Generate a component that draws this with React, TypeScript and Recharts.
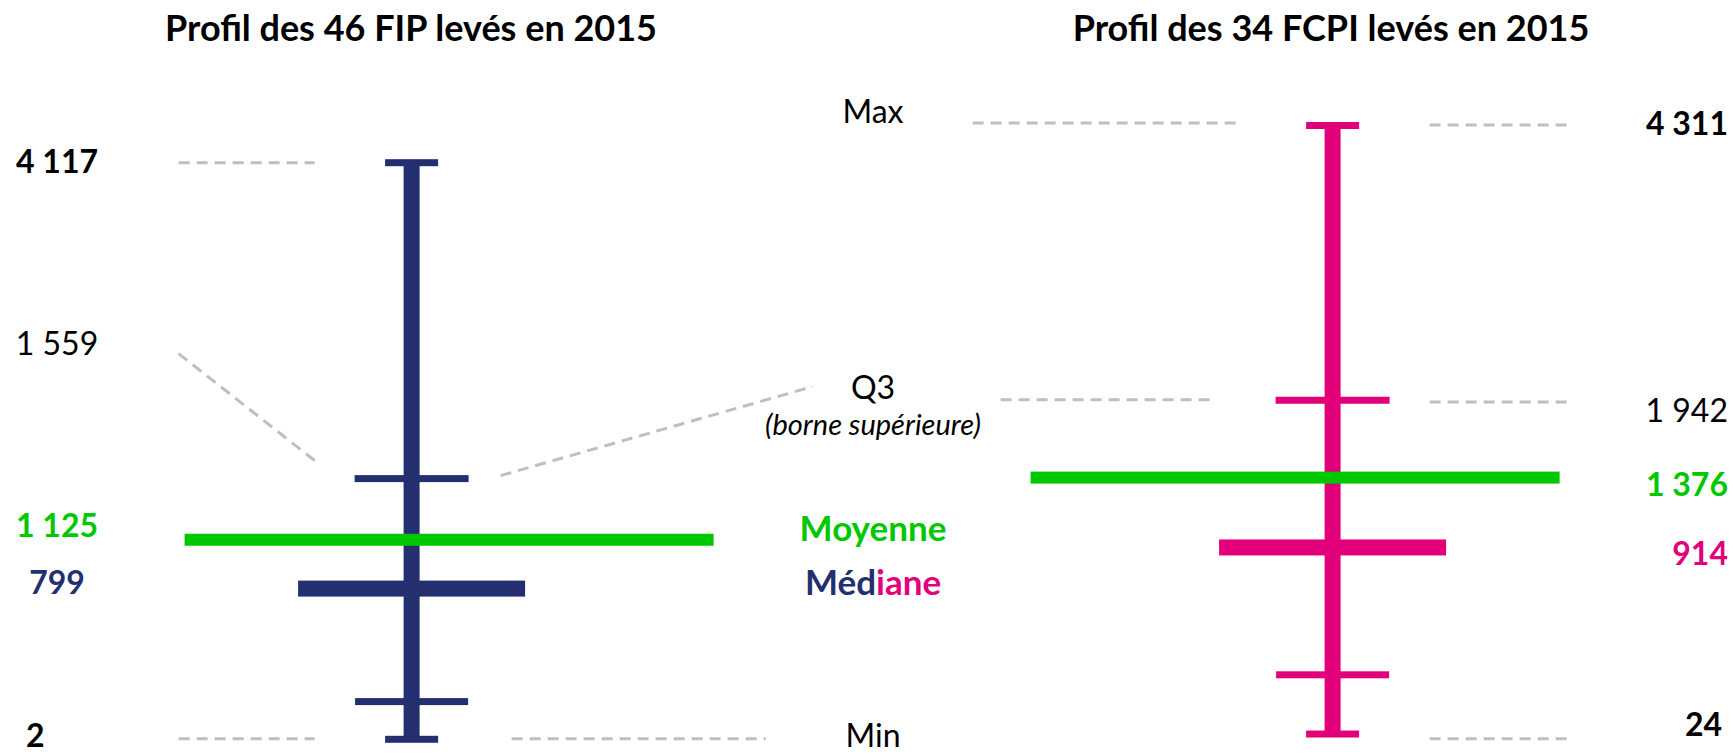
import React from "react";
import { Scatter, ScatterChart, XAxis, YAxis } from "recharts";

// columns of the sheet: the two funds with the legend in between
const columns = ["FIP", "Légende", "FCPI"];
const funds = ["FIP", "FCPI"];
const fundCounts = [46, 34];
const year = 2015;

const statKeys = ["max", "q3", "moyenne", "mediane", "q1", "min"];
const fipValues = [4117, 1559, 1125, 799, 150, 2];
const fcpiValues = [4311, 1942, 1376, 914, 230, 24];

const NAVY = "#232F6E";
const PINK = "#E2007A";
const GREEN = "#00C800";
const GREY = "#BFBFBF";
const FONT = "Lato, 'Open Sans', sans-serif";

const W = 1733;
const H = 754;

// the sheet is drawn on a compressed (power) vertical scale
function powerScale(exponent: number): any {
  let dom: number[] = [0, 1];
  let rng: number[] = [0, 1];
  const f = (v: number) => Math.sign(v) * Math.pow(Math.abs(v), exponent);
  const fi = (t: number) => Math.sign(t) * Math.pow(Math.abs(t), 1 / exponent);
  const scale: any = (v: any) => {
    const a = f(dom[0]);
    const b = f(dom[dom.length - 1]);
    return rng[0] + ((f(Number(v)) - a) / (b - a)) * (rng[rng.length - 1] - rng[0]);
  };
  scale.domain = (d?: any[]) => {
    if (!d) return dom.slice();
    dom = d.map(Number);
    return scale;
  };
  scale.range = (r?: any[]) => {
    if (!r) return rng.slice();
    rng = r.map(Number);
    return scale;
  };
  scale.copy = () => powerScale(exponent).domain(dom).range(rng);
  scale.invert = (px: number) => {
    const a = f(dom[0]);
    const b = f(dom[dom.length - 1]);
    const t = (px - rng[0]) / (rng[rng.length - 1] - rng[0]);
    return fi(a + t * (b - a));
  };
  scale.ticks = (count = 5) => {
    const lo = dom[0];
    const hi = dom[dom.length - 1];
    const out: number[] = [];
    for (let i = 0; i <= count; i++) out.push(lo + ((hi - lo) * i) / count);
    return out;
  };
  scale.tickFormat = () => (v: number) => String(v);
  scale.clamp = () => scale;
  scale.nice = () => scale;
  return scale;
}

const fmt = (v: number) => String(v).replace(/\B(?=(\d{3})+(?!\d))/g, " ");

type Tick = { width?: number; thickness: number; color?: string; away?: number; toward?: number };
const tickStyle: Record<string, Tick> = {
  max: { width: 53, thickness: 7 },
  q3: { width: 114, thickness: 7 },
  moyenne: { thickness: 12, color: GREEN, away: 227, toward: 302 },
  mediane: { width: 227, thickness: 16 },
  q1: { width: 113, thickness: 7 },
  min: { width: 53, thickness: 7 },
};

type Label = { dx: number; dy: number; anchor: "start" | "middle" | "end"; bold: boolean; color: string };
type Guide = [number, number, number, number];

const fundStyle: Record<string, any> = {
  FIP: {
    color: NAVY,
    side: -1,
    exponent: 0.815,
    margin: { top: 162.7, bottom: 13.55 },
    labels: {
      max: { dx: -354.6, dy: 10.6, anchor: "middle", bold: true, color: "#000" },
      q3: { dx: -354.6, dy: -123.3, anchor: "middle", bold: false, color: "#000" },
      moyenne: { dx: -354.6, dy: -2.7, anchor: "middle", bold: true, color: GREEN },
      mediane: { dx: -354.6, dy: 5, anchor: "middle", bold: true, color: NAVY },
      min: { dx: -385.6, dy: 8, anchor: "start", bold: true, color: "#000" },
    } as Record<string, Label>,
    guides: {
      max: [[-233, 0, -97, 0]],
      q3: [
        [-233, -125, -93, -15],
        [89, -3, 401, -92],
      ],
      min: [
        [-233, -0.6, -97, -0.6],
        [100, -0.6, 354, -0.6],
      ],
    } as Record<string, Guide[]>,
  },
  FCPI: {
    color: PINK,
    side: 1,
    exponent: 0.73,
    margin: { top: 125.5, bottom: 5.9 },
    labels: {
      max: { dx: 395.4, dy: 9.5, anchor: "end", bold: true, color: "#000" },
      q3: { dx: 395.4, dy: 21.7, anchor: "end", bold: false, color: "#000" },
      moyenne: { dx: 395.4, dy: 18, anchor: "end", bold: true, color: GREEN },
      mediane: { dx: 395.4, dy: 18, anchor: "end", bold: true, color: PINK },
      min: { dx: 389.4, dy: 2, anchor: "end", bold: true, color: "#000" },
    } as Record<string, Label>,
    guides: {
      max: [
        [-360, -2.5, -95, -2.5],
        [97, -0.5, 234, -0.5],
      ],
      q3: [
        [-332, -0.6, -121, -0.6],
        [97, 1.7, 234, 1.7],
      ],
      min: [[97, 4.7, 234, 4.7]],
    } as Record<string, Guide[]>,
  },
};

function makeShape(fund: string) {
  const st = fundStyle[fund];
  return (props: any) => {
    const { cx, cy, payload } = props;
    const key: string = payload.key;
    const t = tickStyle[key];
    let x0 = cx - (t.width || 0) / 2;
    let w = t.width || 0;
    if (key === "moyenne") {
      const left = st.side < 0 ? t.away! : t.toward!;
      const right = st.side < 0 ? t.toward! : t.away!;
      x0 = cx - left;
      w = left + right;
    }
    const lab: Label | undefined = st.labels[key];
    const guides: Guide[] = st.guides[key] || [];
    return (
      <g>
        {guides.map((g, i) => (
          <line
            key={i}
            x1={cx + g[0]}
            y1={cy + g[1]}
            x2={cx + g[2]}
            y2={cy + g[3]}
            stroke={GREY}
            strokeWidth={3}
            strokeDasharray="11 7"
          />
        ))}
        <rect x={x0} y={cy - t.thickness / 2} width={w} height={t.thickness} fill={t.color || st.color} />
        {lab && (
          <text
            x={cx + lab.dx}
            y={cy + lab.dy}
            textAnchor={lab.anchor}
            fontFamily={FONT}
            fontSize={32}
            fontWeight={lab.bold ? 700 : 400}
            fill={lab.color}
          >
            {fmt(payload.y)}
          </text>
        )}
      </g>
    );
  };
}

function FundChart({ fund, values }: { fund: string; values: number[] }) {
  const st = fundStyle[fund];
  const x = columns.indexOf(fund) + 1;
  const points = statKeys.map((key, i) => ({ key, x, y: values[i] }));
  const whisker = [
    { x, y: values[statKeys.indexOf("min")] },
    { x, y: values[statKeys.indexOf("max")] },
  ];
  return (
    <div style={{ position: "absolute", left: 0, top: 0 }}>
      <ScatterChart
        width={W}
        height={H}
        margin={{ left: 181.35, right: 170.15, top: st.margin.top, bottom: st.margin.bottom }}
      >
        <XAxis type="number" dataKey="x" domain={[0.5, columns.length + 0.5]} hide />
        <YAxis
          type="number"
          dataKey="y"
          domain={[0, Math.max(...values)]}
          scale={powerScale(st.exponent)}
          hide
        />
        <Scatter
          data={whisker}
          line={{ stroke: st.color, strokeWidth: 16 }}
          shape={() => <g />}
          isAnimationActive={false}
        />
        <Scatter data={points} shape={makeShape(fund)} isAnimationActive={false} />
      </ScatterChart>
    </div>
  );
}

export default function App() {
  const legendX = 873;
  const txt = { fontFamily: FONT, fontSize: 32 };
  return (
    <div style={{ position: "absolute", left: 0, top: 0, width: W, height: H, background: "#fff", overflow: "hidden" }}>
      <FundChart fund="FIP" values={fipValues} />
      <FundChart fund="FCPI" values={fcpiValues} />
      <svg width={W} height={H} style={{ position: "absolute", left: 0, top: 0, pointerEvents: "none" }}>
        {funds.map((f, i) => (
          <text
            key={f}
            x={i === 0 ? 411 : 1331}
            y={41}
            textAnchor="middle"
            fontFamily={FONT}
            fontSize={36}
            fontWeight={700}
            fill="#000"
          >
            {`Profil des ${fundCounts[i]} ${f} levés en ${year}`}
          </text>
        ))}
        <text x={legendX} y={123} textAnchor="middle" {...txt} fill="#000">
          Max
        </text>
        <text x={legendX} y={399} textAnchor="middle" {...txt} fill="#000">
          Q3
        </text>
        <text x={legendX} y={435} textAnchor="middle" fontFamily={FONT} fontSize={29} fontStyle="italic" fill="#000">
          (borne supérieure)
        </text>
        <text x={legendX} y={541} textAnchor="middle" fontFamily={FONT} fontSize={35} fontWeight={700} fill={GREEN}>
          Moyenne
        </text>
        <text x={legendX} y={595} textAnchor="middle" fontFamily={FONT} fontSize={35} fontWeight={700}>
          <tspan fill={NAVY}>Méd</tspan>
          <tspan fill={PINK}>iane</tspan>
        </text>
        <text x={legendX} y={747} textAnchor="middle" {...txt} fill="#000">
          Min
        </text>
      </svg>
    </div>
  );
}
